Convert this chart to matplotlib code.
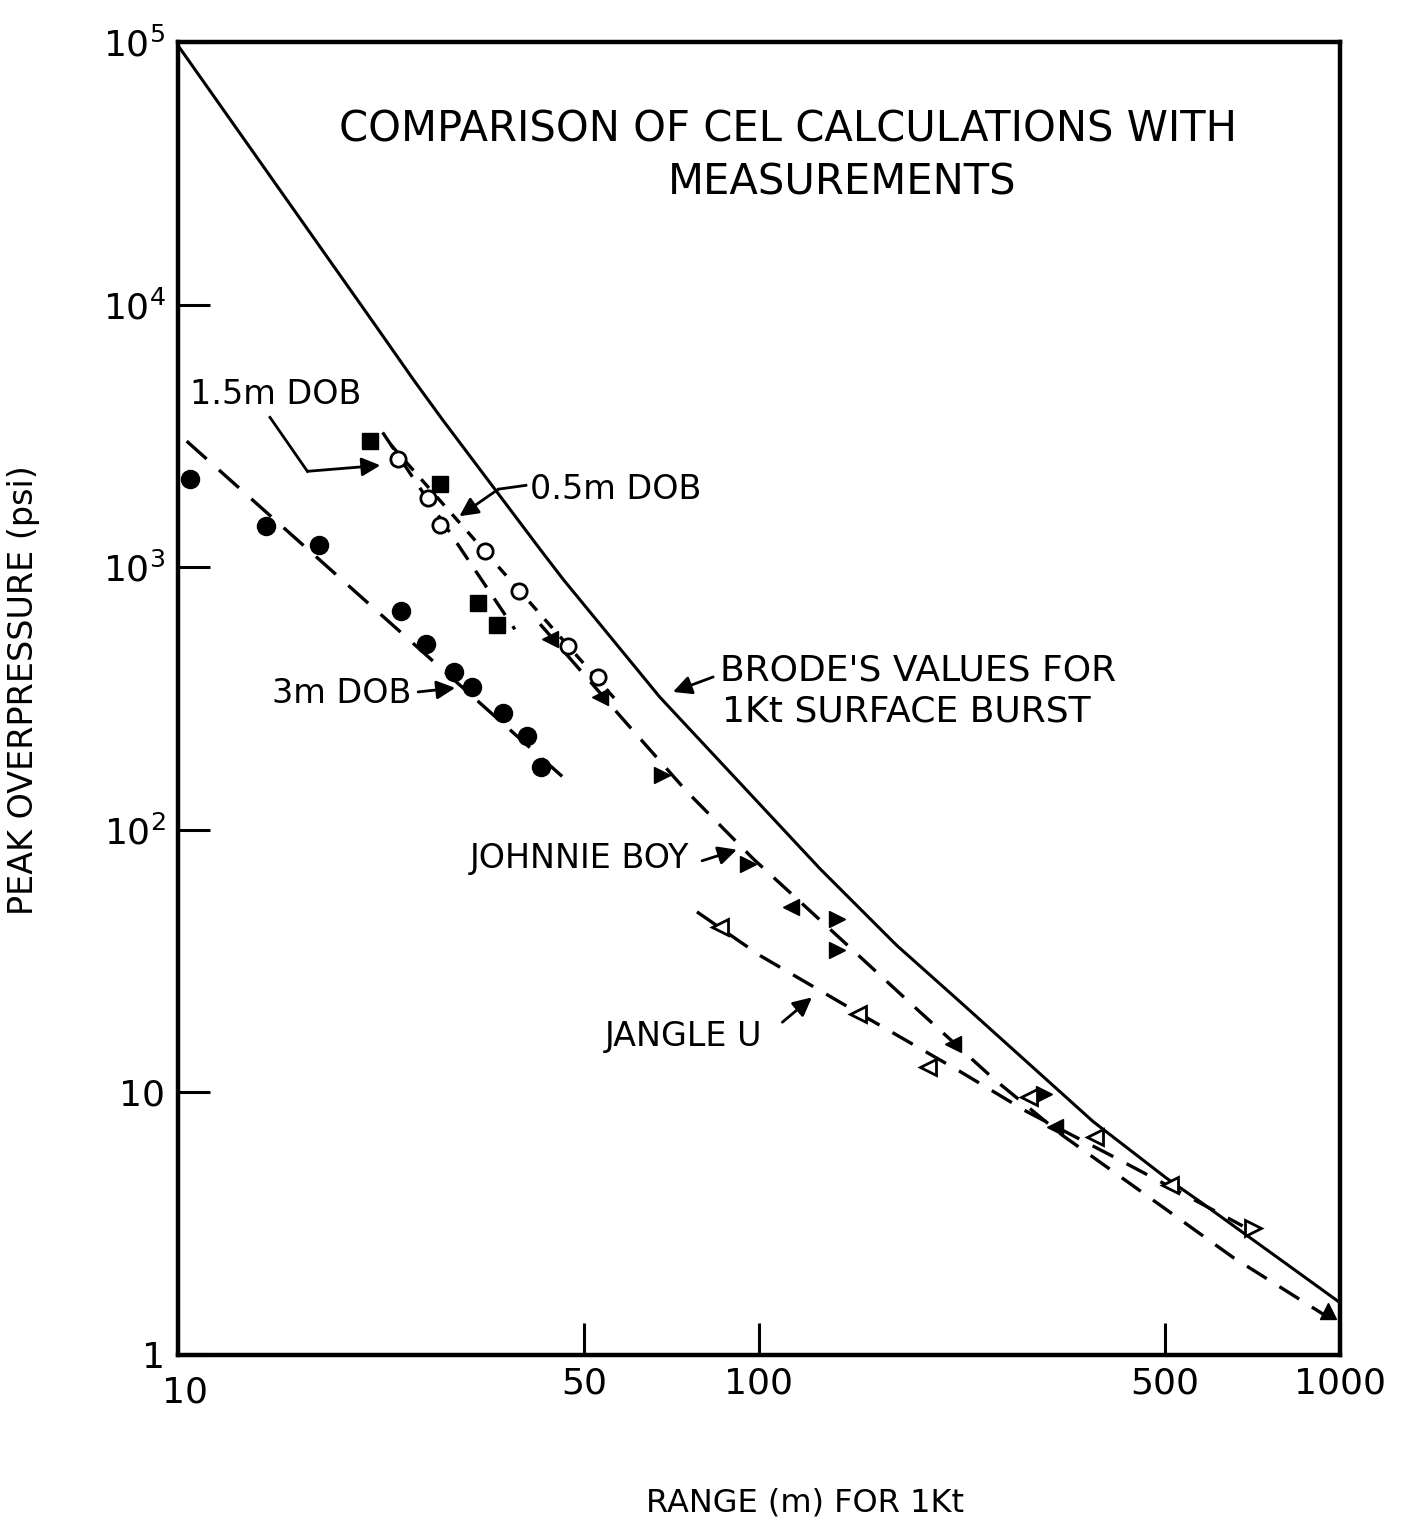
import matplotlib
matplotlib.use("Agg")
import matplotlib.pyplot as plt
from matplotlib.ticker import FixedLocator, FixedFormatter, NullLocator
from matplotlib.transforms import ScaledTranslation

# Brode's values for 1 Kt surface burst (solid curve)
brode_range = [10, 22.0, 25.4, 28.5, 42.0, 46.0, 67.5, 127.4, 172.6, 222, 376, 503, 574, 798, 993]
brode_psi = [97000, 8175, 5190, 3656, 1170, 900, 320, 71, 36.3, 22.1, 7.74, 4.71, 3.84, 2.27, 1.60]

# CEL calculation, 3 m depth of burst
dob3_range = [10.5, 14.2, 17.5, 24.2, 26.7, 29.9, 32.1, 36.2, 39.9, 42.1]
dob3_psi = [2160, 1435, 1213, 682, 509, 400, 349, 278, 227, 173]
dob3_fit_range = [10.35, 47.0]
dob3_fit_psi = [3020, 152]

# CEL calculation, 1.5 m depth of burst
dob15_range = [21.4, 28.2, 32.9, 35.4]
dob15_psi = [3020, 2080, 729, 601]
dob15_fit_range = [22.5, 38.0]
dob15_fit_psi = [3260, 580]

# CEL calculation, 0.5 m depth of burst
dob05_range = [23.9, 26.9, 28.2, 33.7, 38.7, 46.9, 52.8]
dob05_psi = [2578, 1840, 1446, 1154, 812, 503, 381]
dob05_fit_range = [23.2, 56.5]
dob05_fit_psi = [2940, 315]

# Johnnie Boy measurements
jb_range = [43.6, 53.2, 68.0, 95.9, 113.7, 136, 136, 216, 310, 323, 953]
jb_psi = [532, 321, 161, 74.3, 50.8, 45.9, 34.8, 15.3, 9.9, 7.4, 1.47]
jb_fit_range = [42.0, 58.3, 75.2, 97.7, 134, 189, 253, 333, 441, 655, 950]
jb_fit_psi = [607, 264, 139.5, 77.6, 40.9, 20.3, 11.3, 6.86, 4.4, 2.35, 1.40]

# Jangle U measurements
ju_range = [85.7, 148, 195.5, 291, 379, 509, 708]
ju_psi = [42.8, 19.9, 12.5, 9.6, 6.78, 4.43, 3.04]
ju_fit_range = [78.2, 100.4, 147, 222, 289, 402, 516, 680]
ju_fit_psi = [48.7, 33.2, 20.3, 12.0, 8.45, 5.78, 4.31, 3.10]

x_ticks = [10, 50, 100, 500, 1000]
x_ticklabels = ["10", "50", "100", "500", "1000"]
y_ticks = [1, 10, 100, 1000, 1e4, 1e5]
y_ticklabels = ["1", "10", r"$10^{2}$", r"$10^{3}$", r"$10^{4}$", r"$10^{5}$"]

# triangle orientations as drawn by hand on the original
jb_markers = ["<", "<", ">", ">", "<", ">", ">", "<", ">", "<", "^"]
ju_markers = ["<", "<", "<", "<", "<", "<", ">"]

fig = plt.figure(figsize=(14.14, 15.26), dpi=100)
ax = fig.add_axes([178 / 1414, 1 - 1355 / 1526, 1162 / 1414, 1313 / 1526])
ax.set_xscale("log")
ax.set_yscale("log")
ax.set_xlim(10, 1000)
ax.set_ylim(1, 1e5)

k = "black"
dash_lw = 2.4

# Brode curve
ax.plot(brode_range, brode_psi, color=k, lw=2.2, solid_joinstyle="round")

# 3 m DOB
ax.plot(dob3_fit_range, dob3_fit_psi, color=k, lw=dash_lw, dashes=(8, 5))
ax.plot(dob3_range, dob3_psi, "o", color=k, ms=13, ls="none")

# 1.5 m DOB
ax.plot(dob15_fit_range, dob15_fit_psi, color=k, lw=dash_lw, dashes=(6, 4))
ax.plot(dob15_range, dob15_psi, "s", color=k, ms=11, ls="none")

# 0.5 m DOB
ax.plot(dob05_fit_range, dob05_fit_psi, color=k, lw=dash_lw, dashes=(3.5, 3.5))
ax.plot(dob05_range, dob05_psi, "o", mfc="white", mec=k, mew=2, ms=11, ls="none", zorder=4)

# Johnnie Boy
ax.plot(jb_fit_range, jb_fit_psi, color=k, lw=dash_lw, dashes=(7, 4.5))
for xv, yv, m in zip(jb_range, jb_psi, jb_markers):
    ax.plot(xv, yv, m, color=k, ms=12, zorder=4)

# Jangle U
ax.plot(ju_fit_range, ju_fit_psi, color=k, lw=dash_lw, dashes=(7, 4.5))
for xv, yv, m in zip(ju_range, ju_psi, ju_markers):
    ax.plot(xv, yv, m, mfc="white", mec=k, mew=2, ms=12, zorder=4)

# axes styling
for s in ax.spines.values():
    s.set_linewidth(3.2)
ax.xaxis.set_major_locator(FixedLocator(x_ticks))
ax.xaxis.set_major_formatter(FixedFormatter(x_ticklabels))
ax.yaxis.set_major_locator(FixedLocator(y_ticks))
ax.yaxis.set_major_formatter(FixedFormatter(y_ticklabels))
ax.xaxis.set_minor_locator(NullLocator())
ax.yaxis.set_minor_locator(NullLocator())
ax.tick_params(which="major", direction="in", length=23, width=2.2,
               labelsize=26, pad=8, top=False, right=False)
ax.tick_params(axis="y", pad=9)

# the "10" under the corner sits a little lower and to the right, clear of the "1"
fig.canvas.draw()
lbl = ax.xaxis.get_major_ticks()[0].label1
lbl.set_transform(lbl.get_transform() + ScaledTranslation(5 / 72, -7 / 72, fig.dpi_scale_trans))

ax.set_xlabel("RANGE (m) FOR 1Kt", fontsize=23)
ax.xaxis.set_label_coords(0.54, -0.101)
ax.set_ylabel("PEAK OVERPRESSURE (psi)", fontsize=24)
ax.yaxis.set_label_coords(-0.119, 0.506)

# title inside the frame
ax.text(0.525, 0.933, "COMPARISON OF CEL CALCULATIONS WITH", transform=ax.transAxes,
        ha="center", va="center", fontsize=30)
ax.text(0.572, 0.893, "MEASUREMENTS", transform=ax.transAxes,
        ha="center", va="center", fontsize=30)

fs = 24
arrow = dict(arrowstyle="-|>", color=k, lw=2, mutation_scale=28, shrinkA=0, shrinkB=0)

# 1.5m DOB label with bent leader
ax.text(10.5, 4550, "1.5m DOB", ha="left", va="center", fontsize=fs)
ax.plot([14.4, 16.7], [3720, 2318], color=k, lw=2)
ax.annotate("", xy=(22.3, 2443), xytext=(16.7, 2318), arrowprops=arrow)

# 0.5m DOB
ax.text(40.4, 1982, "0.5m DOB", ha="left", va="center", fontsize=fs)
ax.plot([39.7, 35.6], [2050, 1982], color=k, lw=2)
ax.annotate("", xy=(30.5, 1563), xytext=(35.6, 1982), arrowprops=arrow)

# 3m DOB
ax.text(14.5, 329, "3m DOB", ha="left", va="center", fontsize=fs)
ax.annotate("", xy=(30.0, 347), xytext=(25.9, 335), arrowprops=arrow)

# Brode
ax.text(85.7, 403, "BRODE'S VALUES FOR", ha="left", va="center", fontsize=26)
ax.text(86.5, 283, "1Kt SURFACE BURST", ha="left", va="center", fontsize=26)
ax.annotate("", xy=(71.1, 335), xytext=(83.4, 382), arrowprops=arrow)

# Johnnie Boy
ax.text(31.8, 77.6, "JOHNNIE BOY", ha="left", va="center", fontsize=fs)
ax.annotate("", xy=(91.6, 84.0), xytext=(79.8, 76.2), arrowprops=arrow)

# Jangle U
ax.text(54.3, 16.3, "JANGLE U", ha="left", va="center", fontsize=fs)
ax.annotate("", xy=(123.3, 23.0), xytext=(109.7, 18.5), arrowprops=arrow)

fig.savefig("out.png", dpi=100)
